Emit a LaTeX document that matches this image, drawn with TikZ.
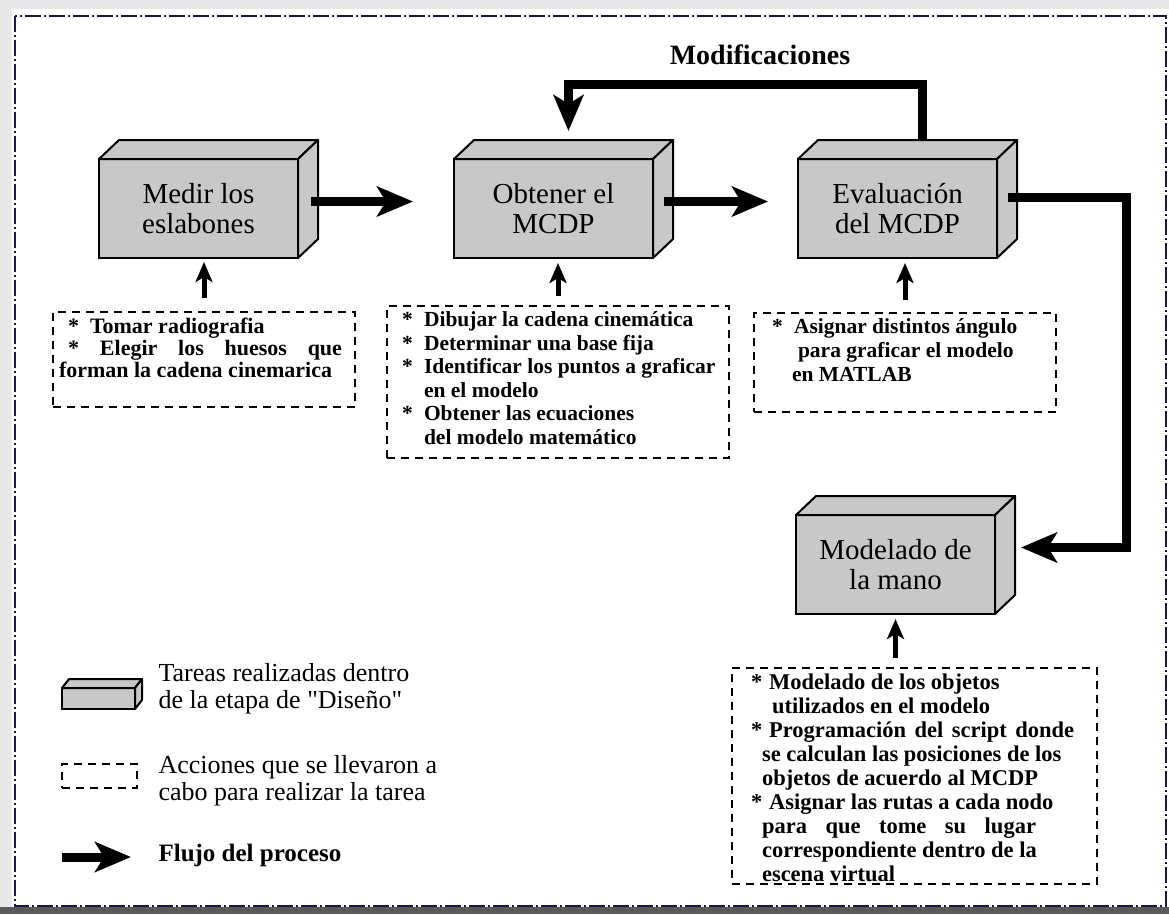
\documentclass[tikz,border=0pt]{standalone}
\usepackage{fontspec}
\setmainfont{Liberation Serif}
\newfontfamily\rectas{Liberation Serif}
\usetikzlibrary{arrows.meta,positioning}
\definecolor{cajagris}{RGB}{200,200,200}
\definecolor{marco}{RGB}{25,25,70}
\definecolor{fondo}{RGB}{232,232,232}
% top and side faces of a task box
\newcommand{\cubo}[3]{%
  \draw[cara] (#1.north west) -- ++(#2,-#3) -- ([shift={(#2,-#3)}]#1.north east) -- (#1.north east) -- cycle;
  \draw[cara] (#1.north east) -- ++(#2,-#3) -- ([shift={(#2,-#3)}]#1.south east) -- (#1.south east) -- cycle;}
\newcommand{\lista}[3]{\parbox[t][#2][t]{#1}{#3}}

\begin{document}
\begin{tikzpicture}[x=1pt, y=-1pt,
    tarea/.style={draw, fill=cajagris, line width=2pt, outer sep=0pt,
                  minimum width=199pt, minimum height=99pt, align=center,
                  font=\fontsize{29}{30}\selectfont},
    cara/.style={fill=cajagris, line width=2pt, line join=round},
    acc/.style={draw, dash pattern=on 8pt off 6pt, line width=2pt, inner sep=6pt,
                outer sep=0pt, font=\bfseries\fontsize{21.5}{23.5}\selectfont},
    flujo/.style={-{Stealth[length=36pt,width=30pt,inset=9pt]}, line width=9pt},
    apoyo/.style={-{Stealth[length=20pt,width=17pt,inset=5pt]}, line width=5pt},
    leyenda/.style={anchor=west, align=left, font=\fontsize{26}{27}\selectfont},
]
    \useasboundingbox (0,0) rectangle (1169,914);
    \fill[fondo] (0,0) rectangle (1169,914);
    \fill[white] (12,9) rectangle (1169,907);
    \fill[black!65] (0,907) rectangle (1169,914);
    \draw[marco, line width=2pt, dash pattern=on 16pt off 3pt on 2pt off 3pt]
        (15,16) rectangle (1166,906);

    % task boxes
    \node[tarea] (m1) at (198.5,208.5) {Medir los\\eslabones};
    \node[tarea, right=156pt of m1] (m2) {Obtener el\\MCDP};
    \node[tarea, right=145pt of m2] (m3) {Evaluación\\del MCDP};
    \node[tarea, below=257pt of m3, xshift=-2pt] (m4) {Modelado de\\la mano};
    \foreach \b in {m1,m2,m3,m4} {\cubo{\b}{20}{19}}

    % actions
    \node[acc, below=54pt of m1, xshift=5.5pt, font=\bfseries\fontsize{22}{22}\selectfont] (acc1)
        {\lista{290pt}{83pt}{%
        \hspace*{9pt}*\hspace{11pt}Tomar radiografia\\
        \hspace*{9pt}*\hspace{21pt}\makebox[242pt][s]{Elegir los huesos que}\\
        forman la cadena cinemarica}};
    \node[acc, below=48pt of m2, xshift=4.5pt] (acc2)
        {\lista{330pt}{140pt}{%
        \hspace*{9pt}\makebox[22pt][l]{*}Dibujar la cadena cinemática\\
        \hspace*{9pt}\makebox[22pt][l]{*}Determinar una base fija\\
        \hspace*{9pt}\makebox[22pt][l]{*}Identificar los puntos a graficar\\
        \hspace*{31pt}en el modelo\\
        \hspace*{9pt}\makebox[22pt][l]{*}Obtener las ecuaciones\\
        \hspace*{31pt}del modelo matemático}};
    \node[acc, below=55pt of m3, xshift=7.5pt, font=\bfseries\fontsize{21.5}{24}\selectfont] (acc3)
        {\lista{290pt}{87pt}{%
        \hspace*{12pt}\makebox[22pt][l]{*}Asignar distintos ángulo\\
        \hspace*{38pt}para graficar el modelo\\
        \hspace*{32pt}en MATLAB}};
    \node[acc, below=54pt of m4, xshift=19pt, font=\bfseries\fontsize{22.5}{24}\selectfont] (acc4)
        {\lista{353pt}{204pt}{%
        \hspace*{13pt}\makebox[18pt][l]{*}Modelado de los objetos\\
        \hspace*{34pt}utilizados en el modelo\\
        \hspace*{13pt}\makebox[18pt][l]{*}\makebox[305pt][s]{Programación del script donde}\\
        \hspace*{24pt}se calculan las posiciones de los\\
        \hspace*{24pt}objetos de acuerdo al MCDP\\
        \hspace*{13pt}\makebox[18pt][l]{*}Asignar las rutas a cada nodo\\
        \hspace*{24pt}\makebox[274pt][s]{para que tome su lugar}\\
        \hspace*{24pt}correspondiente dentro de la\\
        \hspace*{24pt}escena virtual}};

    % process flow
    \draw[flujo] ([shift={(13,-7)}]m1.east) -- ([shift={(-41,-7)}]m2.west);
    \draw[flujo] ([shift={(11,-7)}]m2.east) -- ([shift={(-30,-7)}]m3.west);
    \draw[flujo] ([shift={(25,-18)}]m3.north) -- ++(0,-57) -| ([shift={(15,-28)}]m2.north);
    \node[font=\bfseries\fontsize{28}{30}\selectfont] (modif) at (760,55) {Modificaciones};
    \draw[flujo] ([shift={(11,-11)}]m3.east) -- ++(118,0) |- ([shift={(26,-17)}]m4.east);

    \draw[apoyo] ([yshift=14pt]acc1.north) -- ([yshift=-4pt]acc1.north |- m1.south);
    \draw[apoyo] ([yshift=10pt]acc2.north) -- ([yshift=-5pt]acc2.north |- m2.south);
    \draw[apoyo] ([yshift=13pt]acc3.north) -- ([yshift=-5pt]acc3.north |- m3.south);
    \draw[apoyo] ([yshift=10pt]m4.south |- acc4.north) -- ([yshift=-5pt]m4.south);

    % legend
    \node[tarea, minimum width=73pt, minimum height=21pt] (ley1) at (98.5,698.5) {};
    \cubo{ley1}{7}{9}
    \node[leyenda] (tx1) at (155,688.5) {Tareas realizadas dentro\\de la etapa de {\rectas"}Diseño{\rectas"}};
    \node[acc, minimum width=75pt, minimum height=24pt, inner sep=0pt] (ley2) at (99.5,776) {};
    \node[leyenda] (tx2) at (155,781) {Acciones que se llevaron a\\cabo para realizar la tarea};
    \coordinate (f0) at (62,857);
    \coordinate (f1) at (131,857);
    \draw[flujo] (f0) -- (f1);
    \node[leyenda, font=\bfseries\fontsize{25}{27}\selectfont] (tx3) at (155,855) {Flujo del proceso};
\end{tikzpicture}
\end{document}
